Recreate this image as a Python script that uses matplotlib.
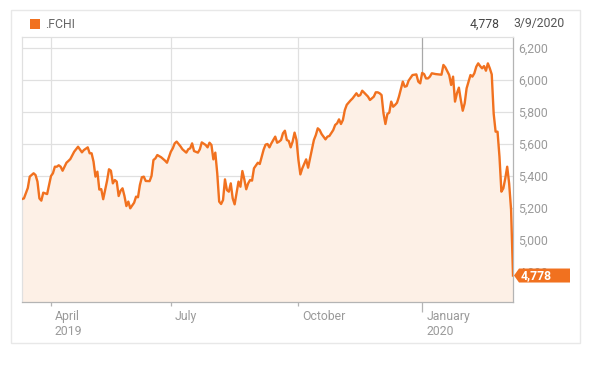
import matplotlib
matplotlib.use("Agg")
import matplotlib.pyplot as plt
import pandas as pd
from matplotlib.patches import Polygon, Rectangle
from matplotlib.transforms import ScaledTranslation, IdentityTransform

plt.rcParams['font.family'] = ['Roboto', 'DejaVu Sans']

symbol = ".FCHI"
last_value = 4778
last_date = "3/9/2020"

dates = [
    "2019-03-11", "2019-03-12", "2019-03-14", "2019-03-15", "2019-03-19", "2019-03-20", "2019-03-21",
    "2019-03-22", "2019-03-25", "2019-03-26", "2019-03-28",
    "2019-04-01", "2019-04-02", "2019-04-03", "2019-04-04", "2019-04-05", "2019-04-08", "2019-04-09",
    "2019-04-11", "2019-04-12", "2019-04-15", "2019-04-17", "2019-04-23", "2019-04-25", "2019-04-26",
    "2019-04-30",
    "2019-05-02", "2019-05-03", "2019-05-06", "2019-05-07", "2019-05-08", "2019-05-09", "2019-05-10",
    "2019-05-13", "2019-05-14", "2019-05-15", "2019-05-16", "2019-05-17", "2019-05-20", "2019-05-21",
    "2019-05-22", "2019-05-23", "2019-05-24", "2019-05-27", "2019-05-28", "2019-05-29", "2019-05-30",
    "2019-05-31",
    "2019-06-04", "2019-06-05", "2019-06-06", "2019-06-07", "2019-06-10", "2019-06-11", "2019-06-12",
    "2019-06-14", "2019-06-17", "2019-06-18", "2019-06-19", "2019-06-20", "2019-06-24", "2019-06-26",
    "2019-06-27",
    "2019-07-01", "2019-07-02", "2019-07-03", "2019-07-04", "2019-07-08", "2019-07-09", "2019-07-11",
    "2019-07-12", "2019-07-15", "2019-07-16", "2019-07-17", "2019-07-19", "2019-07-22", "2019-07-23",
    "2019-07-25", "2019-07-26", "2019-07-29", "2019-07-30", "2019-07-31",
    "2019-08-01", "2019-08-02", "2019-08-05", "2019-08-06", "2019-08-07", "2019-08-08", "2019-08-09",
    "2019-08-12", "2019-08-13", "2019-08-14", "2019-08-15", "2019-08-16", "2019-08-19", "2019-08-20",
    "2019-08-21", "2019-08-22", "2019-08-23", "2019-08-26", "2019-08-27", "2019-08-28", "2019-08-29",
    "2019-09-02", "2019-09-03", "2019-09-04", "2019-09-05", "2019-09-06", "2019-09-09", "2019-09-10",
    "2019-09-11", "2019-09-13", "2019-09-16", "2019-09-17", "2019-09-18", "2019-09-19", "2019-09-20",
    "2019-09-23", "2019-09-24", "2019-09-25", "2019-09-26", "2019-09-27", "2019-09-30",
    "2019-10-01", "2019-10-02", "2019-10-03", "2019-10-07", "2019-10-08", "2019-10-09", "2019-10-11",
    "2019-10-14", "2019-10-15", "2019-10-16", "2019-10-17", "2019-10-21", "2019-10-22", "2019-10-23",
    "2019-10-25", "2019-10-28", "2019-10-29", "2019-10-30", "2019-10-31",
    "2019-11-01", "2019-11-04", "2019-11-05", "2019-11-07", "2019-11-08", "2019-11-12", "2019-11-13",
    "2019-11-14", "2019-11-15", "2019-11-18", "2019-11-20", "2019-11-21", "2019-11-25", "2019-11-26",
    "2019-11-27", "2019-11-28", "2019-11-29",
    "2019-12-02", "2019-12-03", "2019-12-04", "2019-12-05", "2019-12-06", "2019-12-09", "2019-12-10",
    "2019-12-11", "2019-12-12", "2019-12-16", "2019-12-17", "2019-12-18", "2019-12-19", "2019-12-23",
    "2019-12-27", "2019-12-30", "2019-12-31",
    "2020-01-02", "2020-01-03", "2020-01-06", "2020-01-07", "2020-01-08", "2020-01-09", "2020-01-13",
    "2020-01-16", "2020-01-17", "2020-01-20", "2020-01-22", "2020-01-23", "2020-01-24", "2020-01-27",
    "2020-01-28", "2020-01-29", "2020-01-30", "2020-01-31",
    "2020-02-03", "2020-02-04", "2020-02-06", "2020-02-07", "2020-02-10", "2020-02-11", "2020-02-12",
    "2020-02-13", "2020-02-14", "2020-02-17", "2020-02-18", "2020-02-19", "2020-02-20", "2020-02-21",
    "2020-02-24", "2020-02-25", "2020-02-26", "2020-02-27", "2020-02-28",
    "2020-03-02", "2020-03-03", "2020-03-04", "2020-03-05", "2020-03-06", "2020-03-09",
]

values = [
    5256, 5260, 5325, 5396, 5417, 5406, 5365,
    5260, 5246, 5296, 5287,
    5400, 5417, 5458, 5458, 5467, 5458, 5433,
    5483, 5494, 5506, 5552, 5583, 5548, 5562,
    5579,
    5542, 5542, 5490, 5396, 5427, 5315, 5318,
    5255, 5312, 5370, 5442, 5433, 5354, 5375,
    5365, 5275, 5308, 5323, 5275, 5212, 5240,
    5198,
    5233, 5271, 5267, 5344, 5392, 5396, 5369,
    5368, 5400, 5500, 5510, 5531, 5517, 5496,
    5483,
    5552, 5573, 5604, 5615, 5585, 5567, 5546,
    5567, 5573, 5604, 5556, 5546, 5567, 5610,
    5594, 5579, 5608, 5594, 5504,
    5546, 5417, 5240, 5225, 5250, 5379, 5312,
    5302, 5354, 5260, 5223, 5292, 5365, 5333,
    5431, 5379, 5317, 5354, 5375, 5371, 5448,
    5483, 5475, 5521, 5565, 5596, 5600, 5579,
    5604, 5646, 5608, 5615, 5625, 5667, 5683,
    5625, 5619, 5579, 5615, 5671, 5625,
    5500, 5410, 5448, 5504, 5452, 5510, 5625,
    5656, 5698, 5687, 5662, 5629, 5646, 5650,
    5687, 5719, 5729, 5754, 5725,
    5750, 5812, 5845, 5873, 5885, 5917, 5900,
    5906, 5933, 5921, 5896, 5875, 5896, 5923,
    5923, 5917, 5906,
    5792, 5725, 5787, 5796, 5865, 5833, 5844,
    5858, 5896, 5990, 5958, 5962, 5996, 6031,
    6035, 5990, 5979,
    6044, 6037, 6010, 6010, 6021, 6042, 6037,
    6033, 6094, 6079, 6031, 5969, 6021, 5865,
    5917, 5952, 5875, 5808,
    5854, 5948, 6031, 6021, 6042, 6083, 6104,
    6087, 6073, 6087, 6058, 6104, 6073, 6035,
    5790, 5677, 5677, 5521, 5302,
    5323, 5385, 5458, 5354, 5190, 4778,
]

holidays = ["2019-04-19", "2019-04-22", "2019-05-01", "2019-12-25", "2019-12-26", "2020-01-01"]
tick_months = ["2019-04", "2019-07", "2019-10", "2020-01"]
tick_labels = ["April\n2019", "July", "October", "January\n2020"]
y_ticks = [4800, 5000, 5200, 5400, 5600, 5800, 6000, 6200]

# trading-day calendar (category-like axis)
cal = pd.bdate_range(dates[0], dates[-1])
cal = cal[~cal.isin(pd.to_datetime(holidays))]
pos = {d: i for i, d in enumerate(cal)}
x = [pos[pd.Timestamp(d)] for d in dates]
tick_pos = [next(i for i, d in enumerate(cal) if d.strftime("%Y-%m") == m) for m in tick_months]

ORANGE = "#f1711f"
FILL = "#fdf0e6"
GRID = "#e0e0e0"
AXIS = "#b4b4b4"
LABEL = "#9a9a9a"

W, H = 611, 365
fig = plt.figure(figsize=(W / 100, H / 100), dpi=100)
fig.patch.set_facecolor("white")
ax = fig.add_axes([22 / W, 63 / H, 491 / W, 265 / H])

ymin, ymax = 4612.5, 6268.75
ax.set_xlim(0, len(cal) - 1)
ax.set_ylim(ymin, ymax)

# grid
for yt in y_ticks:
    ax.axhline(yt, color=GRID, lw=0.9, zorder=0.5)
for i, p in enumerate(tick_pos):
    ax.axvline(p, color=("#a8a8a8" if i == 3 else GRID), lw=0.9, zorder=0.5)

ax.fill_between(x, values, ymin, color=FILL, lw=0, zorder=2)
ax.plot(x, values, color=ORANGE, lw=1.7, zorder=3, solid_joinstyle="round")

# axes styling
ax.yaxis.tick_right()
ax.set_yticks(y_ticks)
ax.set_yticklabels([f"{v:,}" for v in y_ticks])
ax.tick_params(axis="y", length=0, pad=4, labelcolor=LABEL, labelsize=8.8)
ax.set_xticks(tick_pos)
ax.set_xticklabels(tick_labels)
ax.tick_params(axis="x", length=3, width=0.9, color=AXIS, pad=2.5, labelcolor=LABEL, labelsize=8.8)
off = ScaledTranslation(4 / 100, 0, fig.dpi_scale_trans)
for lbl in ax.get_xticklabels():
    lbl.set_horizontalalignment("left")
    lbl.set_linespacing(1.2)
    lbl.set_transform(lbl.get_transform() + off)
ax.xaxis.get_major_ticks()[3].tick1line.set_markersize(7.5)
ax.xaxis.get_major_ticks()[3].tick1line.set_color("#a8a8a8")

for s in ("left", "top"):
    ax.spines[s].set_color(GRID)
    ax.spines[s].set_linewidth(0.9)
for s in ("right", "bottom"):
    ax.spines[s].set_color(AXIS)
    ax.spines[s].set_linewidth(0.9)

# outer frame
ident = IdentityTransform()
fig.add_artist(Rectangle((10.5, 22.5), 569, 333, transform=ident, fill=False,
                         ec="#e8e8e8", lw=1))

# header
fig.add_artist(Rectangle((29.5, 336), 10, 10, transform=ident, fc=ORANGE, ec="none"))
fig.text(45, 341, symbol, transform=ident, fontsize=8.8, color="#666666", va="center", ha="left")
fig.text(499, 341, f"{last_value:,}", transform=ident, fontsize=8.8, color="#444444",
         va="center", ha="right")
fig.text(565, 341, last_date, transform=ident, fontsize=8.8, color="#555555",
         va="center", ha="right")

# last value tag
fig.canvas.draw()
yd = ax.transData.transform((0, last_value))[1]
xr = ax.transAxes.transform((1, 0))[0]
tag = Polygon([(xr + 1, yd), (xr + 6, yd + 7), (570, yd + 7), (570, yd - 7), (xr + 6, yd - 7)],
              closed=True, transform=ident, fc=ORANGE, ec="none", zorder=10)
fig.add_artist(tag)
fig.text(xr + 8, yd - 0.5, f"{last_value:,}", transform=ident, fontsize=8.8, color="white",
         fontweight="bold", va="center", ha="left", zorder=11)

fig.savefig("out.png", dpi=100, facecolor="white")
